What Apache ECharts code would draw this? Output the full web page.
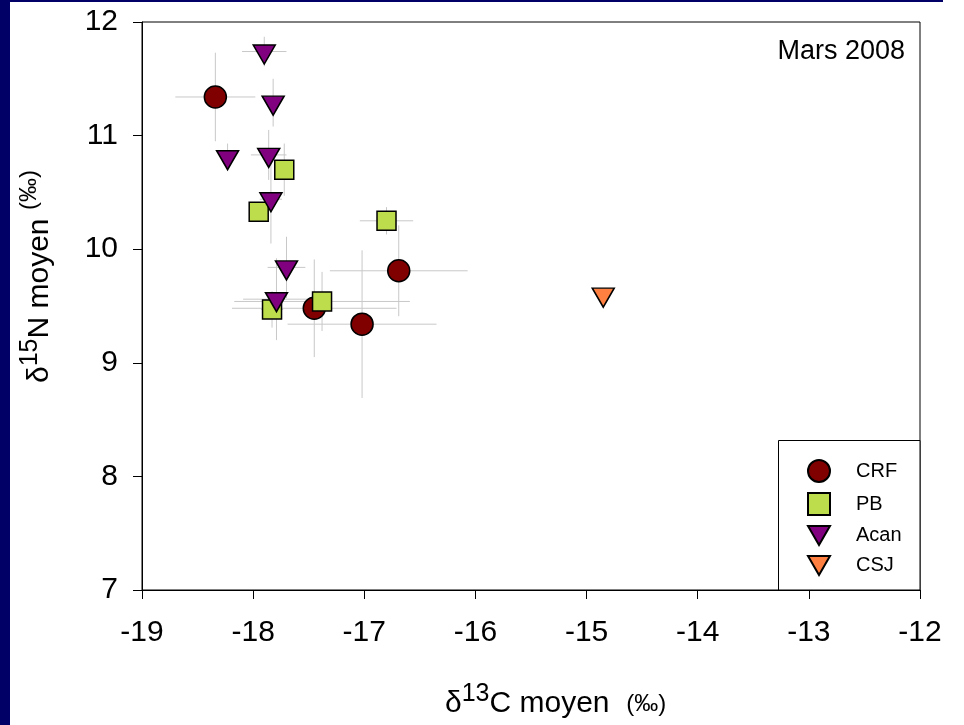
<!DOCTYPE html>
<html>
<head>
<meta charset="utf-8">
<script src="https://cdn.jsdelivr.net/npm/echarts@6/dist/echarts.min.js"></script>
<style>
html,body{margin:0;padding:0;background:#fff;}
#chart{width:964px;height:725px;}
</style>
</head>
<body>
<div id="chart"></div>
<script>
// ---- data ----
const xTicks = [-19, -18, -17, -16, -15, -14, -13, -12];
const yTicks = [7, 8, 9, 10, 11, 12];

const crfX    = [-18.34, -16.69, -17.02, -17.45];
const crfY    = [11.34, 9.81, 9.34, 9.48];
const crfXErr = [0.36, 0.62, 0.67, 0.74];
const crfYErr = [0.39, 0.40, 0.65, 0.43];

const pbX    = [-17.72, -17.95, -16.80, -17.83, -17.38];
const pbY    = [10.70, 10.33, 10.25, 9.47, 9.54];
const pbXErr = [0.06, 0.05, 0.24, 0.10, 0.79];
const pbYErr = [0.23, 0.05, 0.12, 0.16, 0.26];

const acanX    = [-17.90, -17.82, -18.23, -17.86, -17.84, -17.70, -17.79];
const acanY    = [11.74, 11.29, 10.81, 10.83, 10.44, 9.84, 9.56];
const acanXErr = [0.20, 0.05, 0.05, 0.16, 0.10, 0.17, 0.30];
const acanYErr = [0.13, 0.21, 0.12, 0.22, 0.39, 0.27, 0.36];

const csjX = [-14.85];
const csjY = [9.60];
const csjXErr = [0];
const csjYErr = [0];

// ---- build ----
const FONT = 'Liberation Sans, Arial, sans-serif';
const TRI = 'path://M0,0 L22,0 L11,19 Z';

function pts(xs, ys) { return xs.map((x, i) => [x, ys[i]]); }
function errs(xs, ys, ex, ey) { return xs.map((x, i) => [x, ys[i], ex[i], ey[i]]); }

function errRender(params, api) {
  const x = api.value(0), y = api.value(1), ex = api.value(2), ey = api.value(3);
  const l = api.coord([x - ex, y]), r = api.coord([x + ex, y]);
  const t = api.coord([x, y + ey]), b = api.coord([x, y - ey]);
  const st = { stroke: '#c8c8c8', lineWidth: 1 };
  const ch = [];
  if (ex > 0) ch.push({ type: 'line', shape: { x1: l[0], y1: l[1], x2: r[0], y2: r[1] }, style: st });
  if (ey > 0) ch.push({ type: 'line', shape: { x1: t[0], y1: t[1], x2: b[0], y2: b[1] }, style: st });
  return { type: 'group', children: ch };
}

function errSeries(name, data) {
  return { type: 'custom', name: name, renderItem: errRender, data: data, z: 1, silent: true, animation: false };
}

const chart = echarts.init(document.getElementById('chart'), null, { renderer: 'canvas' });

const titleRich = {
  sup: { fontSize: 25, fontFamily: FONT, fill: '#000', verticalAlign: 'top', padding: [0, 0, 20, 0] },
  small: { fontSize: 24, fontFamily: FONT, fill: '#000' }
};

const option = {
  backgroundColor: '#ffffff',
  animation: false,
  grid: { left: 142, top: 22, right: 44, bottom: 135, show: true, borderColor: '#000', borderWidth: 1, backgroundColor: 'transparent' },
  xAxis: {
    type: 'value', min: xTicks[0], max: xTicks[xTicks.length - 1], interval: 1,
    axisLine: { show: true, onZero: false, lineStyle: { color: '#000', width: 1 } },
    axisTick: { show: true, inside: false, length: 9, lineStyle: { color: '#000' } },
    axisLabel: { color: '#000', fontSize: 30, fontFamily: FONT, margin: 28 },
    splitLine: { show: false }
  },
  yAxis: {
    type: 'value', min: yTicks[0], max: yTicks[yTicks.length - 1], interval: 1,
    axisLine: { show: true, onZero: false, lineStyle: { color: '#000', width: 1 } },
    axisTick: { show: true, inside: false, length: 9, lineStyle: { color: '#000' } },
    axisLabel: { color: '#000', fontSize: 30, fontFamily: FONT, margin: 24 },
    splitLine: { show: false }
  },
  legend: {
    data: ['CRF', 'PB', 'Acan', 'CSJ'],
    orient: 'vertical',
    left: 807, top: 459,
    itemWidth: 22, itemHeight: 22, itemGap: 9,
    padding: 0,
    textStyle: { fontSize: 20, fontFamily: FONT, color: '#000', padding: [0, 0, 0, 21] },
    selectedMode: false
  },
  graphic: [
    { type: 'rect', left: 0, top: 0, shape: { width: 10, height: 725 }, style: { fill: '#000066' }, z: 10 },
    { type: 'rect', left: 0, top: 0, shape: { width: 943, height: 2 }, style: { fill: '#000066' }, z: 10 },
    { type: 'rect', shape: { x: 778.5, y: 440.5, width: 141.5, height: 149.5 }, style: { fill: '#fff', stroke: '#000', lineWidth: 1 }, z: 0 },
    { type: 'text', x: 905, y: 52, style: { text: 'Mars 2008', fontSize: 27, fontFamily: FONT, fill: '#000', textAlign: 'right', textVerticalAlign: 'middle' }, z: 10 },
    { type: 'text', x: 445, y: 704, style: {
        text: 'δ{sup|13}C moyen  {small|(‰)}', fontSize: 30, fontFamily: FONT, fill: '#000', textAlign: 'left', textVerticalAlign: 'middle',
        rich: titleRich
      }, z: 10 },
    { type: 'text', x: 40, y: 383, rotation: Math.PI / 2, style: {
        text: 'δ{sup|15}N moyen {small|(‰)}', fontSize: 30, fontFamily: FONT, fill: '#000', textAlign: 'left', textVerticalAlign: 'middle',
        rich: {
          sup: titleRich.sup,
          small: { fontSize: 24, fontFamily: FONT, fill: '#000', verticalAlign: 'top', padding: [0, 0, 14, 0] }
        }
      }, z: 10 }
  ],
  series: [
    errSeries('errCRF', errs(crfX, crfY, crfXErr, crfYErr)),
    errSeries('errPB', errs(pbX, pbY, pbXErr, pbYErr)),
    errSeries('errAcan', errs(acanX, acanY, acanXErr, acanYErr)),
    errSeries('errCSJ', errs(csjX, csjY, csjXErr, csjYErr)),
    { type: 'scatter', name: 'CRF', data: pts(crfX, crfY), symbol: 'circle', symbolSize: 22, z: 3,
      itemStyle: { color: '#800000', borderColor: '#000', borderWidth: 1.5, opacity: 1 } },
    { type: 'scatter', name: 'PB', data: pts(pbX, pbY), symbol: 'rect', symbolSize: 19, z: 3,
      itemStyle: { color: '#bedd4c', borderColor: '#000', borderWidth: 1.5, opacity: 1 } },
    { type: 'scatter', name: 'Acan', data: pts(acanX, acanY), symbol: TRI, symbolSize: [22, 19], symbolOffset: [0, 3], z: 3,
      itemStyle: { color: '#800080', borderColor: '#000', borderWidth: 1.5, opacity: 1 } },
    { type: 'scatter', name: 'CSJ', data: pts(csjX, csjY), symbol: TRI, symbolSize: [22, 19], symbolOffset: [0, 3], z: 3,
      itemStyle: { color: '#ff8040', borderColor: '#000', borderWidth: 1.5, opacity: 1 } }
  ]
};
chart.setOption(option);
</script>
</body>
</html>
